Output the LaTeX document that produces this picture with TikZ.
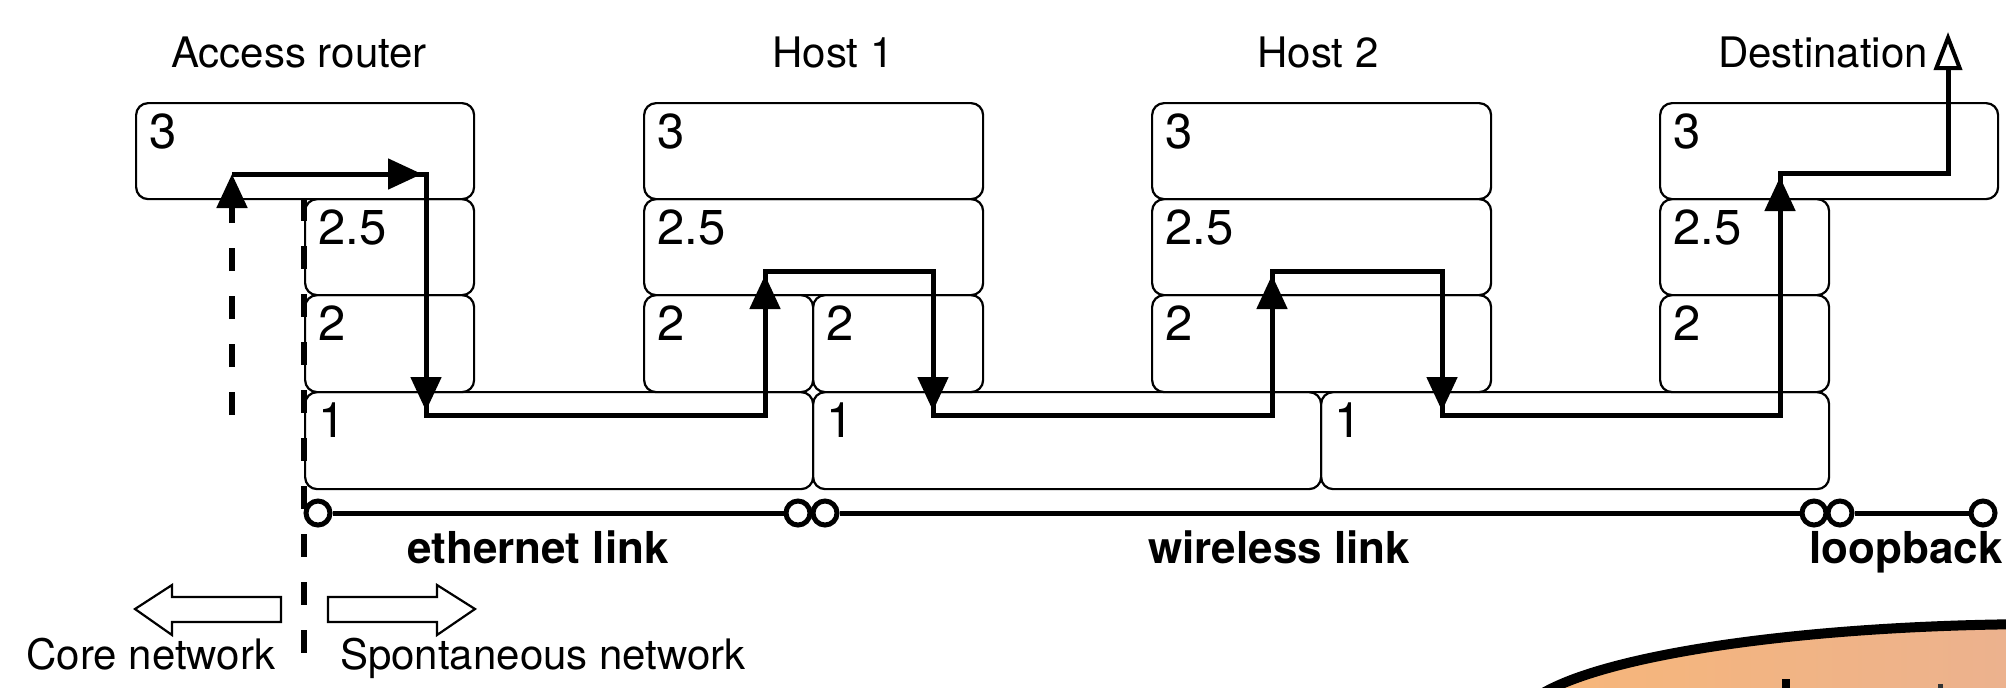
\documentclass[tikz,border=0pt]{standalone}
\usepackage{fontspec}
\setmainfont{TeX Gyre Heros}
\usetikzlibrary{arrows.meta,calc}

\definecolor{blobL}{RGB}{247,182,121}
\definecolor{blobR}{RGB}{236,178,142}

% one protocol layer box: name, x1, y1, x2, y2, layer number
\newcommand\stackbox[6]{%
  \node[layer, minimum width={(#4-#2)*0.5pt}, minimum height={(#5-#3)*0.5pt}] (#1) at (#2,#3) {};
  \node[layernum] (#1-num) at ($(#1.north west)+(14,46)$) {#6};
}

\begin{document}
\begin{tikzpicture}[x=0.5pt,y=-0.5pt,
  layer/.style={draw, line width=1.1pt, rounded corners=6pt, inner sep=0pt, anchor=north west},
  layernum/.style={font=\fontsize{24.5}{28}\selectfont, inner sep=0pt, anchor=base west},
  head/.style={font=\fontsize{21}{25}\selectfont, inner sep=0pt, anchor=base},
  linkname/.style={font=\bfseries\fontsize{22}{26}\selectfont, inner sep=0pt, anchor=base},
  flow/.style={line width=2.5pt},
  hop/.style={flow, shorten >=2pt, -{Triangle[length=17pt,width=15pt]}},
  dashpat/.style={line width=2.6pt, dash pattern=on 11.5pt off 12.5pt},
  port/.style={circle, draw, fill=white, line width=2.5pt, minimum size=12pt, inner sep=0pt},
  link/.style={line width=2.5pt},
  side/.style={draw, line width=1.1pt, fill=white, line join=miter},
]
\useasboundingbox (0,0) rectangle (2006,687);

% column headers
\node[head] (hdr-ar) at (299,67) {Access router};
\node[head] (hdr-h1) at (833,67) {Host 1};
\node[head] (hdr-h2) at (1318,67) {Host 2};
\node[head] (hdr-d)  at (1823,67) {Destination};

% protocol stacks
\stackbox{ar3}{135}{102}{473}{198}{3}
\stackbox{ar25}{304}{198}{473}{294}{2.5}
\stackbox{ar2}{304}{294}{473}{391}{2}
\stackbox{ar1}{304}{391}{812}{488}{1}

\stackbox{ha3}{643}{102}{982}{198}{3}
\stackbox{ha25}{643}{198}{982}{294}{2.5}
\stackbox{ha2l}{643}{294}{812}{391}{2}
\stackbox{ha2r}{812}{294}{982}{391}{2}
\stackbox{ha1}{812}{391}{1320}{488}{1}

\stackbox{hb3}{1151}{102}{1490}{198}{3}
\stackbox{hb25}{1151}{198}{1490}{294}{2.5}
\stackbox{hb2}{1151}{294}{1490}{391}{2}
\stackbox{hb1}{1320}{391}{1828}{488}{1}

\stackbox{ds3}{1659}{102}{1997}{198}{3}
\stackbox{ds25}{1659}{198}{1828}{294}{2.5}
\stackbox{ds2}{1659}{294}{1828}{391}{2}

% boundary between core and spontaneous network
\coordinate (split-end) at (304,658);
\draw[dashpat] (ar25.north west) -- (split-end);

% packet route
\coordinate (f0)  at (232,415);
\coordinate (f1)  at (232,174);
\coordinate (f2)  at (426,174);
\coordinate (f3)  at (426,415);
\coordinate (f4)  at (765,415);
\coordinate (f5)  at (765,271);
\coordinate (f6)  at (933,271);
\coordinate (f7)  at (933,415);
\coordinate (f8)  at (1272,415);
\coordinate (f9)  at (1272,271);
\coordinate (f10) at (1442,271);
\coordinate (f11) at (1442,415);
\coordinate (f12) at (1780,415);
\coordinate (f13) at (1780,173);
\coordinate (f14) at (1948,173);
\coordinate (f15) at (1948,32);

\draw[dashpat, -{Triangle[length=17pt,width=15pt]}] (f0) -- (f1);
\draw[flow, -{Triangle[length=19pt,width=14pt,fill=white,line width=2pt]}]
  (f1) -- (f2) -- (f3) -- (f4) -- (f5) -- (f6) -- (f7) -- (f8) -- (f9)
  -- (f10) -- (f11) -- (f12) -- (f13) -- (f14) -- (f15);
\draw[hop] (f1) -- (f2);
\draw[hop] (f2) -- (f3);
\draw[hop] (f4) -- (f5);
\draw[hop] (f6) -- (f7);
\draw[hop] (f8) -- (f9);
\draw[hop] (f10) -- (f11);
\draw[hop] (f12) -- (f13);

% links and their interfaces
\node[port] (e1) at (318,513) {};
\node[port] (e2) at (798,513) {};
\node[port] (w1) at (825,513) {};
\node[port] (w2) at (1814,513) {};
\node[port] (l1) at (1840,513) {};
\node[port] (l2) at (1983,513) {};
\draw[link] (e1) -- (e2);
\draw[link] (w1) -- (w2);
\draw[link] (l1) -- (l2);

\node[linkname] (lbl-eth)  at (538,563)  {ethernet link};
\node[linkname] (lbl-wl)   at (1279,563) {wireless link};
\node[linkname] (lbl-loop) at (1906,563) {loopback};

% direction arrows
\draw[side] (135,609) -- (172,585) -- (172,597) -- (281,597) -- (281,622)
  -- (172,622) -- (172,635) -- cycle;
\draw[side] (475,609) -- (437,585) -- (437,597) -- (328,597) -- (328,622)
  -- (437,622) -- (437,635) -- cycle;
\node[head] (lbl-core) at (151,669) {Core network};
\node[head] (lbl-spon) at (543,669) {Spontaneous network};

% shaded cloud at the lower right
\begin{scope}
  \clip (2050,724) ellipse [x radius=533, y radius=100];
  \shade[left color=blobL, right color=blobR] (1540,600) rectangle (2006,690);
  \fill[black] (1782,679) rectangle (1790,690);
  \fill[black!80] (1938,684) rectangle (1943,690);
\end{scope}
\draw[line width=5pt] (2050,724) ellipse [x radius=533, y radius=100];

\end{tikzpicture}
\end{document}
